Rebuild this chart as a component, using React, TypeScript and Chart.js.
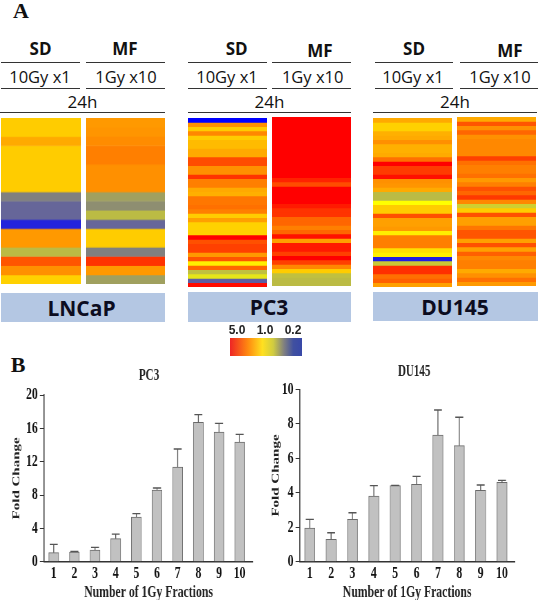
import React, { useEffect, useRef } from "react";
import { Chart, registerables } from "chart.js";

Chart.register(...registerables);

const serif = "'Liberation Serif'";
const sans = "'Open Sans'";

// Heat map fold changes, row by row, top to bottom
const lncapSD = [1.38,1.38,1.71,1.38,1.38,1.38,1.38,1.38,0.45,0.38,0.38,0.25,1.90,1.90,0.65,2.92,2.01,1.34];
const lncapMF = [1.90,1.95,2.06,2.24,2.24,2.01,2.01,2.01,0.55,0.49,0.65,0.38,1.38,1.38,0.45,3.62,1.90,0.55];
const pc3SD = [0.20,2.01,1.38,2.12,1.38,1.54,1.54,1.71,1.71,3.09,3.09,2.01,2.01,3.62,2.24,2.24,1.71,1.65,2.36,2.36,2.47,2.24,1.38,1.82,1.34,1.34,1.34,5.00,3.02,3.34,3.34,1.90,2.92,1.11,2.63,0.67,0.85,0.36,4.69];
const pc3MF = [5,5,5,5,5,5,5,5,5,5,5,5,5,5,4.03,3.09,5,5,5,5,4.24,3.62,3.62,2.63,2.63,2.24,2.63,4.52,1.82,4.24,4.24,3.34,5,3.34,2.12,1.38,0.67,0.65,0.65];
const duSD = [1.71,1.34,1.34,1.65,1.71,2.01,1.65,1.65,1.71,2.47,5.00,3.43,3.43,4.52,2.01,1.95,1.71,0.65,0.65,1.00,1.38,1.38,3.02,1.82,1.82,1.90,1.11,2.24,2.24,2.24,1.22,1.10,0.245,0.71,3.70,3.70,2.47,2.73,1.82];
const duMF = [1.71,2.92,2.01,2.63,2.01,2.12,2.12,2.12,2.12,3.34,2.47,2.24,2.24,2.47,1.90,2.24,3.02,2.63,3.51,2.12,0.74,1.38,3.02,1.82,1.82,2.36,2.92,2.92,1.82,3.02,1.82,2.73,2.12,2.24,2.24,1.71,2.01,2.47,1.90];

// Colour bar
const legendTicks = [5, 1, 0.2];

// Bar charts
const fractions = [1, 2, 3, 4, 5, 6, 7, 8, 9, 10];
const pc3Mean = [1.08, 1.16, 1.4, 2.76, 5.36, 8.6, 11.36, 16.72, 15.56, 14.36];
const pc3Err = [1.0, 0.08, 0.32, 0.56, 0.4, 0.24, 2.16, 0.92, 1.04, 0.92];
const duMean = [1.95, 1.3, 2.46, 3.81, 4.41, 4.49, 7.35, 6.73, 4.14, 4.6];
const duErr = [0.51, 0.38, 0.38, 0.6, 0.02, 0.46, 1.45, 1.65, 0.31, 0.12];

function heatColor(fold: number) {
  const t = Math.log(fold) / Math.log(5);
  if (t >= 0) return `rgb(255,${Math.round(255 * (1 - t))},0)`;
  const u = Math.min(1, -t);
  const c = Math.round(255 * (1 - u));
  return `rgb(${c},${c},${Math.round(255 * u)})`;
}

function HeatColumn({ left, top, w, h, name, values }: any) {
  const ref = useRef<HTMLCanvasElement>(null);
  useEffect(() => {
    const chart = new Chart(ref.current!, {
      type: "bar",
      data: {
        labels: [name],
        datasets: values.map((v: number) => ({
          data: [1],
          backgroundColor: heatColor(v),
          borderWidth: 0,
          barPercentage: 1,
          categoryPercentage: 1,
        })),
      },
      options: {
        responsive: false,
        animation: false,
        layout: { padding: 0 },
        plugins: { legend: { display: false }, tooltip: { enabled: false } },
        scales: {
          x: { stacked: true, display: false },
          y: { stacked: true, display: false, reverse: true, min: 0, max: values.length },
        },
      },
    });
    return () => chart.destroy();
  }, []);
  return <canvas ref={ref} width={w} height={h} style={{ position: "absolute", left, top, width: w, height: h }} />;
}

function ColorBar() {
  const ref = useRef<HTMLCanvasElement>(null);
  useEffect(() => {
    const chart = new Chart(ref.current!, {
      type: "bar",
      data: {
        labels: ["scale"],
        datasets: [{
          data: [[0.119, 7.47]],
          barPercentage: 1,
          categoryPercentage: 1,
          borderWidth: 0,
          backgroundColor: (ctx: any) => {
            const a = ctx.chart.chartArea;
            if (!a) return "#888";
            const g = ctx.chart.ctx.createLinearGradient(a.left, 0, a.right, 0);
            g.addColorStop(0, "#ee2525");
            g.addColorStop(0.25, "#ff8a10");
            g.addColorStop(0.45, "#ffe020");
            g.addColorStop(0.6, "#d0cc40");
            g.addColorStop(0.75, "#808080");
            g.addColorStop(0.88, "#4050a0");
            g.addColorStop(1, "#3848a8");
            return g;
          },
        }],
      },
      options: {
        indexAxis: "y",
        responsive: false,
        animation: false,
        layout: { padding: { left: 10, right: 10 } },
        plugins: { legend: { display: false }, tooltip: { enabled: false } },
        scales: {
          y: { display: false },
          x: {
            type: "logarithmic",
            position: "top",
            reverse: true,
            min: 0.119,
            max: 7.47,
            grid: { display: false, drawTicks: false },
            border: { display: false },
            afterBuildTicks: (s: any) => { s.ticks = legendTicks.map((value) => ({ value })); },
            afterFit: (s: any) => { s.height = 14; },
            ticks: {
              autoSkip: false,
              maxRotation: 0,
              padding: 0,
              color: "#222",
              font: { family: "'Liberation Sans'", size: 12, weight: "bold" },
              callback: (v: any) => Number(v).toFixed(1),
            },
          },
        },
      },
    });
    return () => chart.destroy();
  }, []);
  return <canvas ref={ref} width={92} height={32} style={{ position: "absolute", left: 220, top: 324, width: 92, height: 32 }} />;
}

const squeeze = 0.69;

function FoldChart({ left, canvasW, top, h, axisLeft, axisRight, chartTop, titleCentre, title, mean, err, yMax, yStep, xMin, xMax, barW, yTitlePad }: any) {
  const ref = useRef<HTMLCanvasElement>(null);
  useEffect(() => {
    const errorBars = {
      id: "errorBars",
      afterDatasetsDraw(chart: any) {
        const { ctx, scales } = chart;
        ctx.save();
        ctx.strokeStyle = "#555";
        ctx.lineWidth = 1.3;
        fractions.forEach((f, i) => {
          const x = scales.x.getPixelForValue(f);
          const y0 = scales.y.getPixelForValue(mean[i]);
          const y1 = scales.y.getPixelForValue(mean[i] + err[i]);
          ctx.beginPath();
          ctx.moveTo(x, y0);
          ctx.lineTo(x, y1);
          ctx.moveTo(x - 4 / squeeze, y1);
          ctx.lineTo(x + 4 / squeeze, y1);
          ctx.stroke();
        });
        ctx.restore();
      },
    };
    const lh = 19.2;
    const pt = titleCentre - top - lh / 2;
    const pb = chartTop - top - lh - pt;
    const chart = new Chart(ref.current!, {
      type: "bar",
      plugins: [errorBars],
      data: {
        datasets: [{
          data: fractions.map((f, i) => ({ x: f, y: mean[i] })),
          backgroundColor: "#c1c1c1",
          borderColor: "#6a6a6a",
          borderWidth: 1,
          barThickness: barW / squeeze,
        }],
      },
      options: {
        responsive: false,
        animation: false,
        layout: { padding: 0 },
        plugins: {
          legend: { display: false },
          tooltip: { enabled: false },
          title: {
            display: true,
            text: title,
            color: "#222",
            font: { family: serif, size: 16, weight: "bold" },
            padding: { top: pt, bottom: pb },
          },
        },
        scales: {
          x: {
            type: "linear",
            offset: false,
            min: xMin,
            max: xMax,
            grid: { display: false, drawTicks: false },
            border: { color: "#333", width: 1.5 },
            afterBuildTicks: (s: any) => { s.ticks = fractions.map((value) => ({ value })); },
            afterFit: (s: any) => { s.height = top + h - 561.7; },
            ticks: {
              autoSkip: false,
              maxRotation: 0,
              padding: 2,
              color: "#111",
              font: { family: serif, size: 17, weight: "bold" },
            },
            title: {
              display: true,
              text: "Number of 1Gy Fractions",
              color: "#222",
              font: { family: serif, size: 17, weight: "bold" },
              padding: { top: 0, bottom: 2 },
            },
          },
          y: {
            min: 0,
            max: yMax,
            grid: { display: true, drawOnChartArea: false, drawTicks: true, tickLength: 6, color: "#333" },
            border: { color: "#333", width: 1.5 },
            afterFit: (s: any) => { s.width = (axisLeft - left) / squeeze; },
            ticks: {
              stepSize: yStep,
              padding: 3,
              color: "#111",
              font: { family: serif, size: 17, weight: "bold" },
            },
            title: {
              display: true,
              text: "Fold Change",
              color: "#222",
              font: { family: serif, size: 15, weight: "bold" },
              padding: { top: yTitlePad, bottom: 0 },
            },
          },
          // empty right-hand gutter so that the axis stops short of the centred title's box
          gutter: {
            type: "linear",
            position: "right",
            grid: { display: false },
            border: { display: false },
            ticks: { display: false },
            afterFit: (s: any) => { s.width = (left + canvasW - axisRight) / squeeze; },
          },
        },
      },
    });
    return () => chart.destroy();
  }, []);
  const w = Math.round(canvasW / squeeze);
  return (
    <div style={{ position: "absolute", left, top, width: w, height: h, transform: `scaleX(${squeeze})`, transformOrigin: "left top" }}>
      <canvas ref={ref} width={w} height={h} style={{ display: "block", width: w, height: h }} />
    </div>
  );
}

function Txt({ x, y, size, bold, font, color, children }: any) {
  return (
    <div style={{
      position: "absolute", left: x, top: y, transform: "translate(-50%,-50%)", whiteSpace: "nowrap",
      fontFamily: font || sans, fontSize: size, fontWeight: bold ? 700 : 400, color: color || "#111", lineHeight: 1,
    }}>{children}</div>
  );
}

function Rule({ x1, x2, y }: any) {
  return <div style={{ position: "absolute", left: x1, top: y, width: x2 - x1, height: 1, background: "#333" }} />;
}

function Header({ sd, sdY, mf, mfY, g10, g1, h24, name, l1, l2, r1, r2, full1, full2, boxL, boxR, boxT, boxB, nameX, nameSize }: any) {
  return (
    <>
      <Txt x={sd} y={sdY} size={17} bold>SD</Txt>
      <Txt x={mf} y={mfY} size={17} bold>MF</Txt>
      <Rule x1={l1} x2={l2} y={62} />
      <Rule x1={r1} x2={r2} y={62} />
      <Txt x={g10} y={77} size={16.5}>10Gy x1</Txt>
      <Txt x={g1} y={77} size={16.5}>1Gy x10</Txt>
      <Rule x1={l1} x2={l2} y={88} />
      <Rule x1={r1} x2={r2} y={88} />
      <Txt x={(full1 + full2) / 2} y={101} size={17}>{h24}</Txt>
      <Rule x1={full1} x2={full2} y={112} />
      <div style={{ position: "absolute", left: boxL, top: boxT, width: boxR - boxL, height: boxB - boxT, background: "#b4c7e3" }} />
      <Txt x={nameX} y={(boxT + boxB) / 2} size={nameSize} bold color="#0c0c20">{name}</Txt>
    </>
  );
}

export default function App() {
  return (
    <div style={{ position: "absolute", left: 0, top: 0, width: 538, height: 600, overflow: "hidden", background: "#fff" }}>
      <Txt x={21} y={11} size={22} bold font={serif}>A</Txt>
      <Txt x={18} y={365} size={22} bold font={serif}>B</Txt>

      <Header sd={40.5} sdY={48} mf={125} mfY={48} g10={40} g1={126} h24="24h" name="LNCaP"
        l1={1} l2={80} r1={86} r2={165} full1={0} full2={165} boxL={1} boxR={165} boxT={293} boxB={322} nameX={81.5} nameSize={21} />
      <HeatColumn left={1} top={118} w={79.5} h={165.5} name="SD" values={lncapSD} />
      <HeatColumn left={86} top={118} w={79} h={165.5} name="MF" values={lncapMF} />

      <Header sd={236.7} sdY={48} mf={320} mfY={50} g10={227} g1={312.7} h24="24h" name="PC3"
        l1={188} l2={267} r1={272} r2={351} full1={188} full2={351} boxL={188} boxR={351} boxT={292} boxB={322} nameX={269} nameSize={21} />
      <HeatColumn left={188} top={118} w={79} h={169.3} name="SD" values={pc3SD} />
      <HeatColumn left={272} top={117} w={79} h={169} name="MF" values={pc3MF} />

      <Header sd={414} sdY={48} mf={510} mfY={50} g10={413} g1={500} h24="24h" name="DU145"
        l1={375} l2={453} r1={460} r2={538} full1={373} full2={537} boxL={373} boxR={538} boxT={292} boxB={321} nameX={455} nameSize={21} />
      <HeatColumn left={373} top={118} w={79} h={169.3} name="SD" values={duSD} />
      <HeatColumn left={457} top={117} w={79} h={169.3} name="MF" values={duMF} />

      <ColorBar />

      <FoldChart left={0} canvasW={298} top={355} h={250} axisLeft={44} axisRight={253} chartTop={395} titleCentre={376}
        title="PC3" mean={pc3Mean} err={pc3Err} yMax={20} yStep={4} xMin={0.53} xMax={10.65} barW={10} yTitlePad={15.6} />
      <FoldChart left={262} canvasW={304} top={355} h={250} axisLeft={299.7} axisRight={514.3} chartTop={389.3} titleCentre={371.7}
        title="DU145" mean={duMean} err={duErr} yMax={10} yStep={2} xMin={0.53} xMax={10.59} barW={10.3} yTitlePad={11.3} />
    </div>
  );
}
